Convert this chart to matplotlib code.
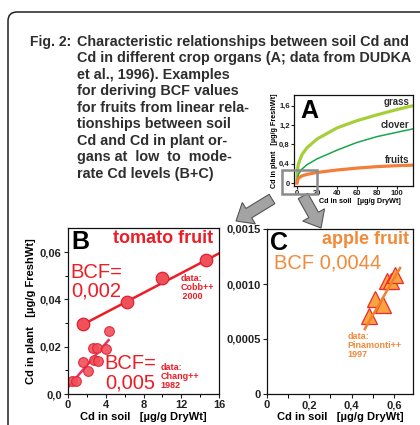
import matplotlib
matplotlib.use("Agg")
import matplotlib.pyplot as plt
from matplotlib.patches import FancyArrow, FancyBboxPatch, Rectangle

plt.rcParams["font.family"] = ["Liberation Sans", "DejaVu Sans"]

# --- panel A: Cd in plant vs Cd in soil (DUDKA et al. 1996)
soil_a = [0, 0.5, 1, 2, 5, 10, 20, 40, 60, 80, 100, 116]
grass = [0, 0.26, 0.35, 0.43, 0.59, 0.73, 0.91, 1.14, 1.29, 1.41, 1.52, 1.6]
clover = [0, 0.1, 0.15, 0.2, 0.29, 0.38, 0.5, 0.68, 0.84, 0.96, 1.05, 1.12]
fruits = [0, 0.05, 0.08, 0.11, 0.15, 0.18, 0.22, 0.27, 0.31, 0.34, 0.36, 0.37]
a_xticks = [0, 20, 40, 60, 80, 100]
a_yticks = [0, 0.4, 0.8, 1.2, 1.6]
a_ylabels = ["0", "0,4", "0,8", "1,2", "1,6"]
zoom_box = (-15, -0.22, 35, 0.49)

# --- panel B: tomato fruit
cobb_x = [1.6, 6.3, 10.0, 14.6]
cobb_y = [0.0296, 0.039, 0.0489, 0.0566]
cobb_line_x = [1.3, 16.5]
cobb_line_y = [0.0288, 0.0605]
chang_x = [0.4, 0.85, 1.6, 2.15, 2.7, 3.05, 2.8, 3.2, 4.0, 4.3]
chang_y = [0.0055, 0.0055, 0.0137, 0.0099, 0.0195, 0.0195, 0.0144, 0.014, 0.019, 0.0266]
chang_line_x = [0.05, 4.3]
chang_line_y = [0.0031, 0.0228]
b_xticks = [0, 4, 8, 12, 16]
b_yticks = [0, 0.02, 0.04, 0.06]
b_ylabels = ["0,0", "0,02", "0,04", "0,06"]

# --- panel C: apple fruit (Pinamonti 1997)
apple_x = [0.481, 0.51, 0.549, 0.565, 0.585, 0.605]
apple_y = [0.000712, 0.000864, 0.000812, 0.001024, 0.00103, 0.001085]
apple_line_x = [0.462, 0.629]
apple_line_y = [0.00059, 0.001145]
c_xticks = [0, 0.2, 0.4, 0.6]
c_xlabels = ["0", "0,2", "0,4", "0,6"]
c_yticks = [0, 0.0005, 0.0010, 0.0015]
c_ylabels = ["0", "0,0005", "0,0010", "0,0015"]

title_lines = [
    "Characteristic relationships between soil Cd and",
    "Cd in different crop organs (A; data from DUDKA",
    "et al., 1996). Examples",
    "for deriving BCF values",
    "for fruits from linear rela-",
    "tionships between soil",
    "Cd and Cd in plant or-",
    "gans at  low  to  mode-",
    "rate Cd levels (B+C)",
]

W, H = 420, 425
fig = plt.figure(figsize=(W / 100, H / 100), dpi=100)
fig.patch.set_facecolor("white")

ov = fig.add_axes([0, 0, 1, 1])
ov.set_xlim(0, W)
ov.set_ylim(H, 0)
ov.axis("off")

ov.add_patch(FancyBboxPatch((8, 12), 440, 440, boxstyle="round,pad=0,rounding_size=9",
                            facecolor="none", edgecolor="#222222", lw=1.1))

txt_col = "#2e2e2e"
ov.text(30, 41.7, "Fig. 2:", fontsize=10, fontweight="bold", color=txt_col, va="center")
for i, line in enumerate(title_lines):
    ov.text(77, 41.7 + i * 16.5, line, fontsize=10.4, fontweight="bold", color=txt_col, va="center")

# grey block arrows from zoom box
for tail, tip in [((272, 199), (236, 221)), ((303, 196), (321, 228))]:
    ov.add_patch(FancyArrow(tail[0], tail[1], tip[0] - tail[0], tip[1] - tail[1],
                            width=11, head_width=25, head_length=15,
                            length_includes_head=True, facecolor="#a3a3a3",
                            edgecolor="#555555", lw=0.8))


def style_axes(ax, fs):
    for s in ax.spines.values():
        s.set_linewidth(0.9)
        s.set_color("#111111")
    ax.tick_params(direction="out", length=3, width=0.8, labelsize=fs, pad=1.5,
                   colors="#222222")
    for lab in ax.get_xticklabels() + ax.get_yticklabels():
        lab.set_fontweight("bold")


# panel A
axA = fig.add_axes([294 / W, 1 - 186 / H, 119 / W, 91 / H])
axA.plot(soil_a, grass, color="#a6ce39", lw=2.3, solid_capstyle="butt")
axA.plot(soil_a, clover, color="#1aa64b", lw=1.1)
axA.plot(soil_a, fruits, color="#f47d3b", lw=2.3)
axA.set_xlim(-3, 116)
axA.set_ylim(-0.06, 1.82)
axA.set_xticks(a_xticks)
axA.set_xticklabels([str(v) for v in a_xticks])
axA.set_yticks(a_yticks)
axA.set_yticklabels(a_ylabels)
style_axes(axA, 5.5)
axA.tick_params(length=2, pad=1)
axA.add_patch(Rectangle(zoom_box[:2], zoom_box[2], zoom_box[3], fill=False,
                        edgecolor="#8a8a8a", lw=1.8, clip_on=False, zorder=5))
axA.text(3, 1.74, "A", fontsize=18, fontweight="bold", va="top", ha="left")
axA.text(112, 1.62, "grass", fontsize=7, fontweight="bold", color=txt_col, ha="right", va="baseline")
axA.text(112, 1.13, "clover", fontsize=7, fontweight="bold", color=txt_col, ha="right", va="baseline")
axA.text(112, 0.42, "fruits", fontsize=7, fontweight="bold", color=txt_col, ha="right", va="baseline")
axA.set_xlabel("Cd in soil   [µg/g DryWt]", fontsize=5.2, fontweight="bold", labelpad=0.5, x=0.55)
axA.set_ylabel("Cd in plant   [µg/g FreshWt]", fontsize=5.2, fontweight="bold", labelpad=1)

# panel B
red = "#ee1c25"
axB = fig.add_axes([68 / W, 1 - 394 / H, 151 / W, 166 / H])
axB.plot(cobb_line_x, cobb_line_y, color=red, lw=1.8)
axB.plot(cobb_x, cobb_y, "o", ms=9, mfc="#f0505a", mec="#e02030", mew=0.9)
axB.plot(chang_line_x, chang_line_y, color="#e8336a", lw=1.8)
axB.plot(chang_x, chang_y, "o", ms=7, mfc="#f0505a", mec="#e02030", mew=0.8, alpha=0.9)
axB.set_xlim(0, 16)
axB.set_ylim(0, 0.0702)
axB.set_xticks(b_xticks)
axB.set_xticklabels([str(v) for v in b_xticks])
axB.set_xticks([2, 6, 10, 14], minor=True)
axB.set_yticks(b_yticks)
axB.set_yticklabels(b_ylabels)
axB.set_yticks([0.01, 0.03, 0.05], minor=True)
style_axes(axB, 8)
axB.tick_params(which="minor", length=2, width=0.7)
axB.text(0.02, 0.985, "B", transform=axB.transAxes, fontsize=18, fontweight="bold", va="top")
axB.text(0.96, 0.985, "tomato fruit", transform=axB.transAxes, fontsize=13,
         fontweight="bold", color=red, ha="right", va="top")
axB.text(0.3, 0.0556, "BCF=\n0,002", fontsize=14.5, color=red, va="top", linespacing=1.0)
axB.text(11.9, 0.0507, "data:\nCobb++\n 2000", fontsize=6.5, fontweight="bold", color=red,
         va="top", linespacing=1.0)
axB.text(3.9, 0.0168, "BCF=\n0,005", fontsize=14.5, color=red, va="top", linespacing=1.0)
axB.text(9.8, 0.0133, "data:\nChang++\n1982", fontsize=6.5, fontweight="bold", color=red,
         va="top", linespacing=1.0)
axB.set_xlabel("Cd in soil   [µg/g DryWt]", fontsize=8, fontweight="bold", labelpad=1)
axB.set_ylabel("Cd in plant   [µg/g FreshWt]", fontsize=8, fontweight="bold", labelpad=3)

# panel C
orange = "#f28a3a"
axC = fig.add_axes([267 / W, 1 - 394 / H, 146 / W, 165 / H])
axC.plot(apple_line_x, apple_line_y, color="#f07f30", lw=1.8, zorder=3)
axC.plot(apple_x, apple_y, "^", ms=12, mfc="#f9a440", mec="#ee2b2b", mew=0.9, zorder=2)
axC.set_xlim(0, 0.69)
axC.set_ylim(0, 0.0015)
axC.set_xticks(c_xticks)
axC.set_xticklabels(c_xlabels)
axC.set_xticks([0.1, 0.3, 0.5], minor=True)
axC.set_yticks(c_yticks)
axC.set_yticklabels(c_ylabels)
style_axes(axC, 8)
axC.tick_params(which="minor", length=3, width=0.7)
axC.text(0.02, 0.985, "C", transform=axC.transAxes, fontsize=18, fontweight="bold", va="top")
axC.text(0.97, 0.985, "apple fruit", transform=axC.transAxes, fontsize=13,
         fontweight="bold", color=orange, ha="right", va="top")
axC.text(0.035, 0.00128, "BCF 0,0044", fontsize=14.5, color=orange, va="top")
axC.text(0.38, 0.00056, "data:\nPinamonti++\n1997", fontsize=6.5, fontweight="bold",
         color=orange, va="top", linespacing=1.0)
axC.set_xlabel("Cd in soil   [µg/g DryWt]", fontsize=8, fontweight="bold", labelpad=1)

fig.savefig("out.png", dpi=100, facecolor="white")
